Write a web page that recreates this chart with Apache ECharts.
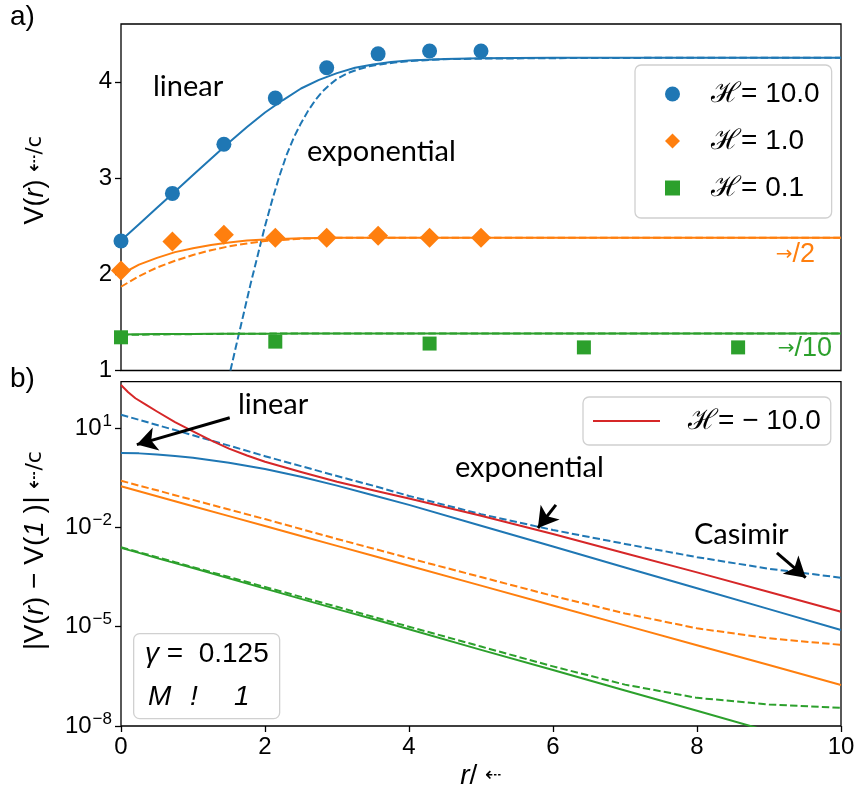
<!DOCTYPE html>
<html><head><meta charset="utf-8">
<script src="https://cdn.jsdelivr.net/npm/echarts@6/dist/echarts.min.js"></script>
<style>html,body{margin:0;padding:0;background:#fff}#chart{width:859px;height:795px}</style>
</head><body><div id="chart"></div>
<script>
// ---------- panel a: V(r) ----------
const aPointX = [0, 0.714, 1.429, 2.143, 2.857, 3.571, 4.286, 5.0];
const aPointsK10 = [2.345, 2.84, 3.35, 3.83, 4.145, 4.29, 4.32, 4.32];
const aPointsK1 = [2.04, 2.34, 2.41, 2.38, 2.38, 2.40, 2.38, 2.38];
const aPointXK01 = [0, 2.143, 4.286, 6.429, 8.571];
const aPointsK01 = [1.345, 1.30, 1.28, 1.24, 1.24];

const aLinX = [0, 0.25, 0.5, 0.75, 1, 1.25, 1.5, 1.75, 2, 2.25, 2.5, 2.75, 3, 3.25, 3.5, 3.75, 4, 4.5, 5, 6, 8, 10];
const aLinK10 = [2.35, 2.52, 2.69, 2.86, 3.03, 3.20, 3.37, 3.53, 3.68, 3.81, 3.93, 4.02, 4.09, 4.145, 4.18, 4.205, 4.22, 4.237, 4.245, 4.25, 4.25, 4.25];
const aExpX = [1.52, 1.6, 1.7, 1.8, 1.9, 2.0, 2.1, 2.2, 2.3, 2.4, 2.5, 2.6, 2.7, 2.8, 2.9, 3.0, 3.15, 3.3, 3.45, 3.6, 3.8, 4.0, 4.5, 5, 6, 8, 10];
const aExpK10 = [1.0, 1.26, 1.58, 1.9, 2.2, 2.5, 2.77, 3.02, 3.24, 3.42, 3.57, 3.7, 3.81, 3.9, 3.97, 4.03, 4.09, 4.13, 4.16, 4.18, 4.2, 4.215, 4.235, 4.24, 4.245, 4.25, 4.25];

const aSmallX = [0, 0.25, 0.5, 0.75, 1, 1.25, 1.5, 1.75, 2, 2.5, 3, 4, 5, 6, 8, 10];
const aLinK1 = [2.0, 2.1, 2.17, 2.23, 2.27, 2.305, 2.33, 2.35, 2.362, 2.375, 2.38, 2.38, 2.38, 2.38, 2.38, 2.38];
const aExpK1 = [1.87, 1.98, 2.07, 2.14, 2.2, 2.25, 2.29, 2.32, 2.345, 2.37, 2.38, 2.38, 2.38, 2.38, 2.38, 2.38];
const aLinK01 = [1.375, 1.377, 1.378, 1.379, 1.38, 1.381, 1.382, 1.383, 1.383, 1.384, 1.385, 1.385, 1.385, 1.385, 1.385, 1.385];
const aExpK01 = [1.37, 1.372, 1.374, 1.376, 1.378, 1.38, 1.381, 1.382, 1.383, 1.384, 1.385, 1.385, 1.385, 1.385, 1.385, 1.385];

// ---------- panel b: log10 |V(r) - V(inf)| ----------
const bX = [0, 0.25, 0.5, 0.75, 1, 1.5, 2, 2.5, 3, 3.5, 4, 5, 6, 7, 8, 9, 10];
const bExpK10 = [1.40, 1.25, 1.09, 0.94, 0.78, 0.47, 0.15, -0.15, -0.45, -0.74, -1.05, -1.6, -2.08, -2.5, -2.9, -3.25, -3.52];
const bLinK10 = [0.245, 0.235, 0.2, 0.155, 0.1, -0.05, -0.24, -0.47, -0.74, -1.03, -1.32, -1.95, -2.58, -3.21, -3.84, -4.47, -5.1];
const bExpK1 = [-0.59, -0.74, -0.88, -1.03, -1.17, -1.46, -1.75, -2.05, -2.35, -2.64, -2.93, -3.5, -4.07, -4.6, -5.05, -5.35, -5.55];
const bLinK1 = [-0.76, -0.91, -1.06, -1.21, -1.36, -1.66, -1.96, -2.26, -2.56, -2.86, -3.16, -3.76, -4.36, -4.96, -5.56, -6.16, -6.76];
const bExpK01 = [-2.6, -2.75, -2.9, -3.05, -3.2, -3.5, -3.8, -4.1, -4.4, -4.7, -5.0, -5.6, -6.2, -6.75, -7.15, -7.35, -7.45];
const bLinK01 = [-2.62, -2.77, -2.93, -3.08, -3.23, -3.54, -3.85, -4.16, -4.47, -4.77, -5.08, -5.7, -6.31, -6.93, -7.54, -8.16, -8.77];
const bNegX = [0, 0.1, 0.2, 0.35, 0.5, 0.75, 1, 1.25, 1.5, 1.75, 2, 2.5, 3, 3.5, 4, 5, 6, 7, 8, 9, 10];
const bNegK10 = [2.3, 2.08, 1.9, 1.7, 1.5, 1.18, 0.9, 0.63, 0.38, 0.17, -0.02, -0.33, -0.62, -0.88, -1.13, -1.65, -2.2, -2.78, -3.36, -3.95, -4.55];

const aYTicks = [1, 2, 3, 4];
const bYTicks = [-8, -5, -2, 1];

const COL = { blue: '#1f77b4', orange: '#ff7f0e', green: '#2ca02c', red: '#d62728' };
const SANS = '"Liberation Sans", Arial, sans-serif';
const HUM = 'Lato, "Open Sans", sans-serif';
const DASH = [7.4, 3.2];

const pairs = (xs, ys) => xs.map((x, i) => [x, ys[i]]);

function curve(name, gi, xs, ys, color, dashed, z) {
  return {
    type: 'line', name: name, xAxisIndex: gi, yAxisIndex: gi,
    data: pairs(xs, ys), symbol: 'none', showSymbol: false, smooth: false,
    clip: true, silent: true, z: z || 2,
    lineStyle: { color: color, width: 2, type: dashed ? DASH : 'solid', cap: 'butt', join: 'round' },
    itemStyle: { color: color }
  };
}
function points(name, xs, ys, color, symbol, size) {
  return {
    type: 'scatter', name: name, xAxisIndex: 0, yAxisIndex: 0,
    data: pairs(xs, ys), symbol: symbol, symbolSize: size, z: 5,
    itemStyle: { color: color, opacity: 1 }
  };
}

const supLabel = v => '{b|10}{s|' + (v < 0 ? '\u2212' + (-v) : v) + '}';
const tickStyle = { show: true, inside: false, length: 6, lineStyle: { color: '#000', width: 1.3 } };

const chart = echarts.init(document.getElementById('chart'));

const series = [
  curve('linK10', 0, aLinX, aLinK10, COL.blue, false),
  curve('expK10', 0, aExpX, aExpK10, COL.blue, true),
  curve('linK1', 0, aSmallX, aLinK1, COL.orange, false),
  curve('expK1', 0, aSmallX, aExpK1, COL.orange, true),
  curve('linK01', 0, aSmallX, aLinK01, COL.green, false),
  curve('expK01', 0, aSmallX, aExpK01, COL.green, true),
  points('ℋ= 10.0', aPointX, aPointsK10, COL.blue, 'circle', 15),
  points('ℋ= 1.0', aPointX, aPointsK1, COL.orange, 'diamond', 20),
  points('ℋ= 0.1', aPointXK01, aPointsK01, COL.green, 'rect', 14),
  curve('bLinK01', 1, bX, bLinK01, COL.green, false),
  curve('bExpK01', 1, bX, bExpK01, COL.green, true),
  curve('bLinK1', 1, bX, bLinK1, COL.orange, false),
  curve('bExpK1', 1, bX, bExpK1, COL.orange, true),
  curve('bLinK10', 1, bX, bLinK10, COL.blue, false),
  curve('bExpK10', 1, bX, bExpK10, COL.blue, true),
  Object.assign(curve('ℋ= \u2212 10.0', 1, bNegX, bNegK10, COL.red, false, 3), {
    markLine: {
      silent: true, symbol: ['none', 'arrow'], symbolSize: [18, 20],
      label: { show: false },
      lineStyle: { color: '#000', width: 3, type: 'solid' },
      data: [
        [{ coord: [1.51, 1.31] }, { coord: [0.22, 0.50] }],
        [{ coord: [6.04, -1.32] }, { coord: [5.79, -2.02] }],
        [{ coord: [9.11, -2.77] }, { coord: [9.51, -3.52] }]
      ]
    }
  })
];

const option = {
  animation: false,
  backgroundColor: '#fff',
  grid: [
    { left: 121, top: 24, width: 720, height: 346.5, show: true, borderColor: '#000', borderWidth: 1.3, backgroundColor: 'transparent' },
    { left: 121, top: 381.7, width: 720, height: 344.3, show: true, borderColor: '#000', borderWidth: 1.3, backgroundColor: 'transparent' }
  ],
  xAxis: [
    { type: 'value', gridIndex: 0, min: 0, max: 10, interval: 2,
      axisLine: { show: false, onZero: false }, axisTick: { show: false }, axisLabel: { show: false }, splitLine: { show: false } },
    { type: 'value', gridIndex: 1, min: 0, max: 10, interval: 2,
      axisLine: { show: false, onZero: false }, axisTick: tickStyle, splitLine: { show: false },
      axisLabel: { color: '#000', fontSize: 24, fontFamily: SANS, margin: 9 },
      name: '{i|r}{n|/ }{s|⇠}', nameLocation: 'middle', nameGap: 36,
      nameTextStyle: { color: '#000', rich: {
        i: { fontSize: 28, fontStyle: 'italic', fontFamily: SANS, color: '#000' },
        n: { fontSize: 28, fontFamily: SANS, color: '#000' },
        s: { fontSize: 20, fontFamily: 'DejaVu Sans', color: '#000' } } } }
  ],
  yAxis: [
    { type: 'value', gridIndex: 0, min: 1, max: 4.6,
      axisLine: { show: false, onZero: false }, splitLine: { show: false },
      axisTick: Object.assign({ customValues: aYTicks }, tickStyle),
      axisLabel: { customValues: aYTicks, color: '#000', fontSize: 24, fontFamily: SANS, margin: 9 },
      name: '{n|V(}{i|r}{n|) }{s|⇠/c}', nameLocation: 'middle', nameGap: 72,
      nameTextStyle: { color: '#000', padding: [0, 0, 0, 34], rich: {
        i: { fontSize: 27, fontStyle: 'italic', fontFamily: SANS, color: '#000' },
        n: { fontSize: 27, fontFamily: SANS, color: '#000' },
        s: { fontSize: 21, fontFamily: 'DejaVu Sans', color: '#000' } } } },
    { type: 'value', gridIndex: 1, min: -8, max: 2.4,
      axisLine: { show: false, onZero: false }, splitLine: { show: false },
      axisTick: Object.assign({ customValues: bYTicks }, tickStyle),
      axisLabel: { customValues: bYTicks, color: '#000', margin: 9, formatter: supLabel,
        rich: { b: { fontSize: 24, fontFamily: SANS, color: '#000' },
                s: { fontSize: 17, fontFamily: SANS, color: '#000', padding: [0, 0, 14, 1] } } },
      name: '{i||}{n|V(}{i|r}{n|) \u2212 V(}{i|1}{n| )}{i||}{n| }{s|⇠/c}', nameLocation: 'middle', nameGap: 72,
      nameTextStyle: { color: '#000', padding: [0, 0, 0, 6], rich: {
        i: { fontSize: 28, fontStyle: 'italic', fontFamily: SANS, color: '#000' },
        n: { fontSize: 28, fontFamily: SANS, color: '#000' },
        s: { fontSize: 22, fontFamily: 'DejaVu Sans', color: '#000' } } } }
  ],
  legend: [
    { data: ['ℋ= 10.0', 'ℋ= 1.0', 'ℋ= 0.1'], orient: 'vertical', left: 635, top: 65,
      width: 198, itemWidth: 15, itemHeight: 15, itemGap: 19, selectedMode: false,
      padding: [15, 12, 16, 30], borderColor: '#d0d0d0', borderWidth: 1.3, borderRadius: 6,
      backgroundColor: 'rgba(255,255,255,0.85)',
      textStyle: { color: '#000', fontSize: 28, fontFamily: SANS, padding: [0, 0, 0, 26] } },
    { data: [{ name: 'ℋ= \u2212 10.0', icon: 'rect' }], orient: 'vertical', left: 583, top: 397,
      itemWidth: 67, itemHeight: 2.2, selectedMode: false,
      padding: [10, 10, 10, 10], borderColor: '#d0d0d0', borderWidth: 1.3, borderRadius: 6,
      backgroundColor: 'rgba(255,255,255,0.85)',
      textStyle: { color: '#000', fontSize: 28, fontFamily: SANS, padding: [0, 0, 0, 23] } }
  ],
  graphic: [
    { type: 'text', left: 10, top: 3, style: { text: 'a)', fontSize: 28, fontFamily: SANS, fill: '#000' } },
    { type: 'text', left: 10, top: 365, style: { text: 'b)', fontSize: 28, fontFamily: SANS, fill: '#000' } },
    { type: 'text', left: 153, top: 72, style: { text: 'linear', fontSize: 29, fontFamily: HUM, fill: '#000' } },
    { type: 'text', left: 307, top: 137, style: { text: 'exponential', fontSize: 29, fontFamily: HUM, fill: '#000' } },
    { type: 'text', right: 44, top: 241, style: { text: '{a|→}{n|/2}', fill: COL.orange,
      rich: { a: { fontSize: 20, fontFamily: 'DejaVu Sans', fill: COL.orange }, n: { fontSize: 27, fontFamily: SANS, fill: COL.orange } } } },
    { type: 'text', right: 27, top: 335, style: { text: '{a|→}{n|/10}', fill: COL.green,
      rich: { a: { fontSize: 20, fontFamily: 'DejaVu Sans', fill: COL.green }, n: { fontSize: 27, fontFamily: SANS, fill: COL.green } } } },
    { type: 'text', left: 238, top: 390, style: { text: 'linear', fontSize: 29, fontFamily: HUM, fill: '#000' } },
    { type: 'text', left: 455, top: 453, style: { text: 'exponential', fontSize: 29, fontFamily: HUM, fill: '#000' } },
    { type: 'text', left: 694, top: 520, style: { text: 'Casimir', fontSize: 29, fontFamily: HUM, fill: '#000' } },
    { type: 'rect', left: 133, top: 633, shape: { width: 146, height: 85, r: 6 },
      style: { fill: 'rgba(255,255,255,0.85)', stroke: '#d0d0d0', lineWidth: 1.3 }, z: 10 },
    { type: 'text', left: 145, top: 640, z: 11, style: { text: '{i|γ}{n| =  0.125}',
      rich: { i: { fontSize: 28, fontStyle: 'italic', fontFamily: SANS, fill: '#000' }, n: { fontSize: 28, fontFamily: SANS, fill: '#000' } } } },
    { type: 'text', left: 148, top: 683, z: 11, style: { text: 'M',
      fontSize: 28, fontStyle: 'italic', fontFamily: SANS, fill: '#000' } },
    { type: 'text', left: 190, top: 683, z: 11, style: { text: '!',
      fontSize: 28, fontStyle: 'italic', fontFamily: SANS, fill: '#000' } },
    { type: 'text', left: 234, top: 683, z: 11, style: { text: '1',
      fontSize: 28, fontStyle: 'italic', fontFamily: SANS, fill: '#000' } }
  ],
  series: series
};
chart.setOption(option);
</script>
</body></html>
